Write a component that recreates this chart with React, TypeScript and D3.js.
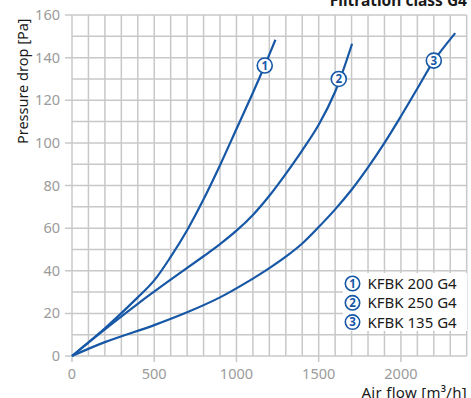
import React from "react";
import * as d3 from "d3";

const seriesNames = ["KFBK 200 G4", "KFBK 250 G4", "KFBK 135 G4"];
const s1x = [0, 200, 400, 500, 600, 700, 800, 900, 1000, 1100, 1172, 1237];
const s1y = [0, 13, 27.5, 35.5, 46.5, 59, 73.5, 89.5, 106.5, 123.5, 136.3, 148.4];
const s2x = [0, 200, 400, 600, 800, 900, 1000, 1100, 1200, 1300, 1400, 1500, 1600, 1703];
const s2y = [0, 12.5, 24.5, 35.8, 46.8, 52.5, 58.8, 66.2, 75.2, 85.5, 96.5, 108.5, 124, 146.5];
const s3x = [0, 200, 500, 700, 900, 1100, 1200, 1300, 1400, 1500, 1600, 1700, 1800, 1900, 2000, 2100, 2200, 2330];
const s3y = [0, 6.5, 14.5, 20.5, 27.5, 36.3, 41.2, 46.6, 52.8, 60.5, 68.8, 78, 88.5, 100, 112.5, 125.5, 138.5, 151.5];
const markerX = [1172, 1622, 2200];
const markerY = [136.3, 130, 138.6];
const xTicks = [0, 500, 1000, 1500, 2000];
const yTicks = [0, 20, 40, 60, 80, 100, 120, 140, 160];

const BLUE = "#1657a6";
const GRID = "#c8c8c8";
const FONT = "'Noto Sans', 'Open Sans', sans-serif";

export default function App() {
  const W = 471, H = 398;
  const x = d3.scaleLinear().domain([0, 2400]).range([72, 466.7]);
  const y = d3.scaleLinear().domain([0, 160]).range([356, 15]);
  const xs = [s1x, s2x, s3x];
  const ys = [s1y, s2y, s3y];
  const line = d3
    .line<[number, number]>()
    .x((d) => x(d[0]))
    .y((d) => y(d[1]))
    .curve(d3.curveCatmullRom.alpha(0.5));
  const vGrid = d3.range(0, 2401, 100);
  const hGrid = d3.range(0, 161, 10);
  return (
    <svg width={W} height={H} style={{ position: "absolute", left: 0, top: 0, background: "#fff" }} fontFamily={FONT}>
      {vGrid.map((v) => (
        <line key={"v" + v} x1={x(v)} x2={x(v)} y1={y(160)} y2={v % 500 === 0 ? y(0) + 6 : y(0)} stroke={GRID} strokeWidth={1.5} />
      ))}
      {hGrid.map((v) => (
        <line key={"h" + v} x1={v % 20 === 0 ? x(0) - 7 : x(0)} x2={x(2400)} y1={y(v)} y2={y(v)} stroke={GRID} strokeWidth={1.5} />
      ))}
      {yTicks.map((v) => (
        <text key={"yt" + v} x={60} y={y(v)} dy="0.35em" textAnchor="end" fontSize={14.5} fill="#9b9b9b">
          {v}
        </text>
      ))}
      {xTicks.map((v) => (
        <text key={"xt" + v} x={x(v)} y={379} textAnchor="middle" fontSize={14.5} fill="#9b9b9b">
          {v}
        </text>
      ))}
      <rect x={343} y={273} width={124} height={58} fill="#fff" />
      {xs.map((sx, i) => (
        <path
          key={"s" + i}
          d={line(sx.map((v, j) => [v, ys[i][j]] as [number, number])) || ""}
          fill="none"
          stroke={BLUE}
          strokeWidth={2.2}
        />
      ))}
      {markerX.map((mx, i) => (
        <g key={"m" + i}>
          <circle cx={x(mx)} cy={y(markerY[i])} r={7.5} fill="#fff" stroke={BLUE} strokeWidth={1.6} />
          <text x={x(mx)} y={y(markerY[i])} dy="0.36em" textAnchor="middle" fontSize={11.5} fontWeight="bold" fill={BLUE}>
            {i + 1}
          </text>
        </g>
      ))}
      {seriesNames.map((n, i) => (
        <g key={"l" + i}>
          <circle cx={352.5} cy={283.5 + i * 19.3} r={7.2} fill="#fff" stroke={BLUE} strokeWidth={1.6} />
          <text x={352.5} y={283.5 + i * 19.3} dy="0.36em" textAnchor="middle" fontSize={11.5} fontWeight="bold" fill={BLUE}>
            {i + 1}
          </text>
          <text x={367.5} y={283.5 + i * 19.3} dy="0.36em" fontSize={15} fill="#1a1a1a">
            {n}
          </text>
        </g>
      ))}
      <text x={467} y={6} textAnchor="end" fontSize={15.5} fontWeight="bold" fill="#1a1a1a">
        Filtration class G4
      </text>
      <text x={467} y={397.5} textAnchor="end" fontSize={15} fill="#1a1a1a" letterSpacing={0.3}>
        Air flow [m³/h]
      </text>
      <text transform={`translate(28, ${y(120) - 19}) rotate(-90)`} textAnchor="middle" fontSize={14.5} fill="#1a1a1a">
        Pressure drop [Pa]
      </text>
    </svg>
  );
}
